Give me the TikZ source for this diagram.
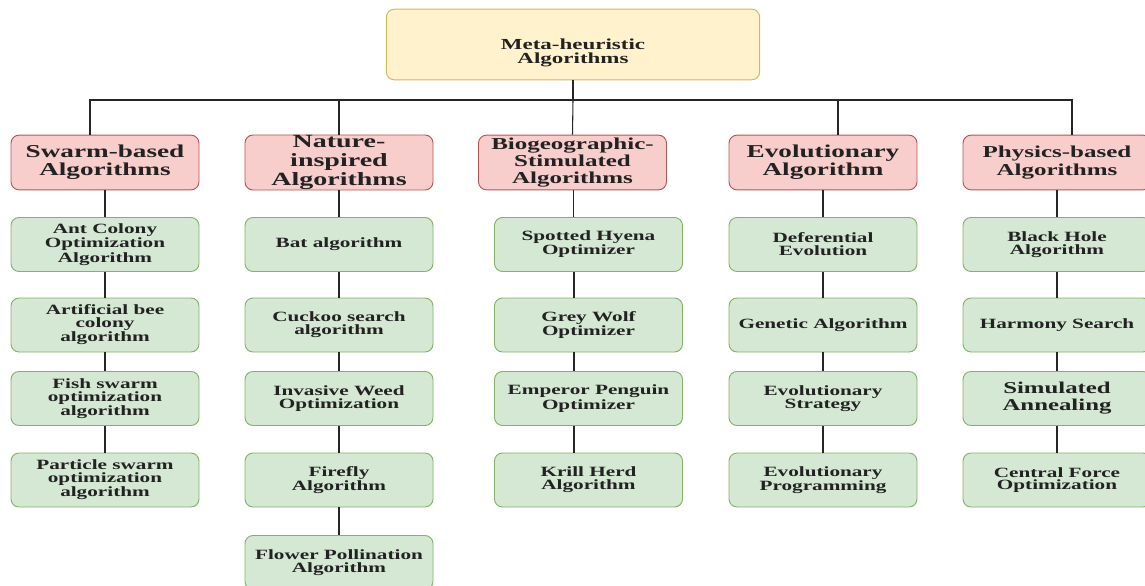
\documentclass[tikz,border=0pt]{standalone}
\usepackage{fontspec}
\setmainfont{Liberation Serif}[FakeStretch=1.5]
\usepackage{xcolor}
\usepackage{tikz}

\definecolor{topfill}{HTML}{FFF2CC}
\definecolor{topline}{HTML}{D6B656}
\definecolor{catfill}{HTML}{F8CECC}
\definecolor{catline}{HTML}{B85450}
\definecolor{leaffill}{HTML}{D5E8D4}
\definecolor{leafline}{HTML}{82B366}
\definecolor{txt}{HTML}{222222}

\begin{document}
\begin{tikzpicture}[x=0.75pt,y=-0.75pt,
  topbox/.style={draw=topline, fill=topfill, rounded corners=6pt, line width=0.7pt, minimum width=280pt, minimum height=53pt},
  toptext/.style={align=center, inner sep=0pt, text=txt, font=\bfseries\fontsize{11.5}{10.5}\selectfont},
  catbox/.style={draw=catline, fill=catfill, rounded corners=6pt, line width=0.7pt, align=center, minimum width=141pt, minimum height=41pt, inner sep=0pt, text=txt, font=\bfseries\fontsize{13.6}{13.6}\selectfont},
  leafbox/.style={draw=leafline, fill=leaffill, rounded corners=6pt, line width=0.7pt, align=center, minimum width=141pt, minimum height=40.5pt, inner sep=1pt, text=txt, font=\bfseries\fontsize{10.6}{9.6}\selectfont},
  ln/.style={line width=0.8pt, black!85}
]
\useasboundingbox (0,0) rectangle (1145,585);
% root
\node[topbox]  (meta)    at (573,44.5) {};
\node[toptext] (metatxt) at (573,53)   {Meta-heuristic\\Algorithms};
\coordinate (bus) at (573,100);
% categories, left to right
\node[catbox] (swarm) at (105,162.5)   {Swarm-based\\Algorithms};
\node[catbox, font=\bfseries\fontsize{14}{14.5}\selectfont] (nat) at (339,162.5) {Nature-\\inspired\\Algorithms};
\node[catbox, font=\bfseries\fontsize{12.5}{13}\selectfont] (bio) at (572.5,162.5) {Biogeographic-\\Stimulated\\Algorithms};
\node[catbox] (evo) at (823,162.5)     {Evolutionary\\Algorithm};
\node[catbox, font=\bfseries\fontsize{12.5}{13.5}\selectfont] (phy) at (1057,162.5) {Physics-based\\Algorithms};
% swarm-based
\node[leafbox] (aco) at (105,244.5) {Ant Colony\\Optimization\\Algorithm};
\node[leafbox] (abc) at (105,325)   {Artificial bee\\colony\\algorithm};
\node[leafbox] (fso) at (105,398.5) {Fish swarm\\optimization\\algorithm};
\node[leafbox] (pso) at (105,480)   {Particle swarm\\optimization\\algorithm};
% nature-inspired
\node[leafbox] (bat) at (339,244.5) {Bat algorithm};
\node[leafbox] (cuc) at (339,325)   {Cuckoo search\\algorithm};
\node[leafbox] (iwo) at (339,398.5) {Invasive Weed\\Optimization};
\node[leafbox] (ffa) at (339,480)   {Firefly\\Algorithm};
\node[leafbox] (fpa) at (339,562.5) {Flower Pollination\\Algorithm};
% biogeographic
\node[leafbox] (sho) at (588.5,244.5) {Spotted Hyena\\Optimizer};
\node[leafbox] (gwo) at (588.5,325)   {Grey Wolf\\Optimizer};
\node[leafbox] (epo) at (588.5,398.5) {Emperor Penguin\\Optimizer};
\node[leafbox] (kha) at (588.5,480)   {Krill Herd\\Algorithm};
% evolutionary
\node[leafbox] (de)  at (823,244.5) {Deferential\\Evolution};
\node[leafbox] (ga)  at (823,325)   {Genetic Algorithm};
\node[leafbox] (es)  at (823,398.5) {Evolutionary\\Strategy};
\node[leafbox] (ep)  at (823,480)   {Evolutionary\\Programming};
% physics-based
\node[leafbox] (bh)  at (1057,244.5) {Black Hole\\Algorithm};
\node[leafbox] (hs)  at (1057,325)   {Harmony Search};
\node[leafbox, font=\bfseries\fontsize{12.4}{12.8}\selectfont] (sa) at (1057,398.5) {Simulated\\Annealing};
\node[leafbox] (cfo) at (1057,480)   {Central Force\\Optimization};
% root to categories
\draw[ln] (meta.south) -- (bus);
\draw[ln] (bus) -| ([xshift=-11.25pt]swarm.north);
\draw[ln] (bus) -| (nat.north);
\draw[ln] (bus) -- (bio.north);
\draw[ln] (bus) -| ([xshift=11.25pt]evo.north);
\draw[ln] (bus) -| ([xshift=11.25pt]phy.north);
% columns
\draw[ln] (swarm) -- (aco); \draw[ln] (aco) -- (abc); \draw[ln] (abc) -- (fso); \draw[ln] (fso) -- (pso);
\draw[ln] (nat) -- (bat); \draw[ln] (bat) -- (cuc); \draw[ln] (cuc) -- (iwo); \draw[ln] (iwo) -- (ffa); \draw[ln] (ffa) -- (fpa);
\draw[ln] ([xshift=1pt]bio.south) -- ([xshift=1pt]bio.south |- sho.north);
\draw[ln] ([xshift=-10.9pt]sho.south) -- ([xshift=-10.9pt]gwo.north);
\draw[ln] ([xshift=-10.9pt]gwo.south) -- ([xshift=-10.9pt]epo.north);
\draw[ln] ([xshift=-10.9pt]epo.south) -- ([xshift=-10.9pt]kha.north);
\draw[ln] (evo) -- (de); \draw[ln] (de) -- (ga); \draw[ln] (ga) -- (es); \draw[ln] (es) -- (ep);
\draw[ln] (phy) -- (bh); \draw[ln] (bh) -- (hs); \draw[ln] (hs) -- (sa); \draw[ln] (sa) -- (cfo);
\end{tikzpicture}
\end{document}
